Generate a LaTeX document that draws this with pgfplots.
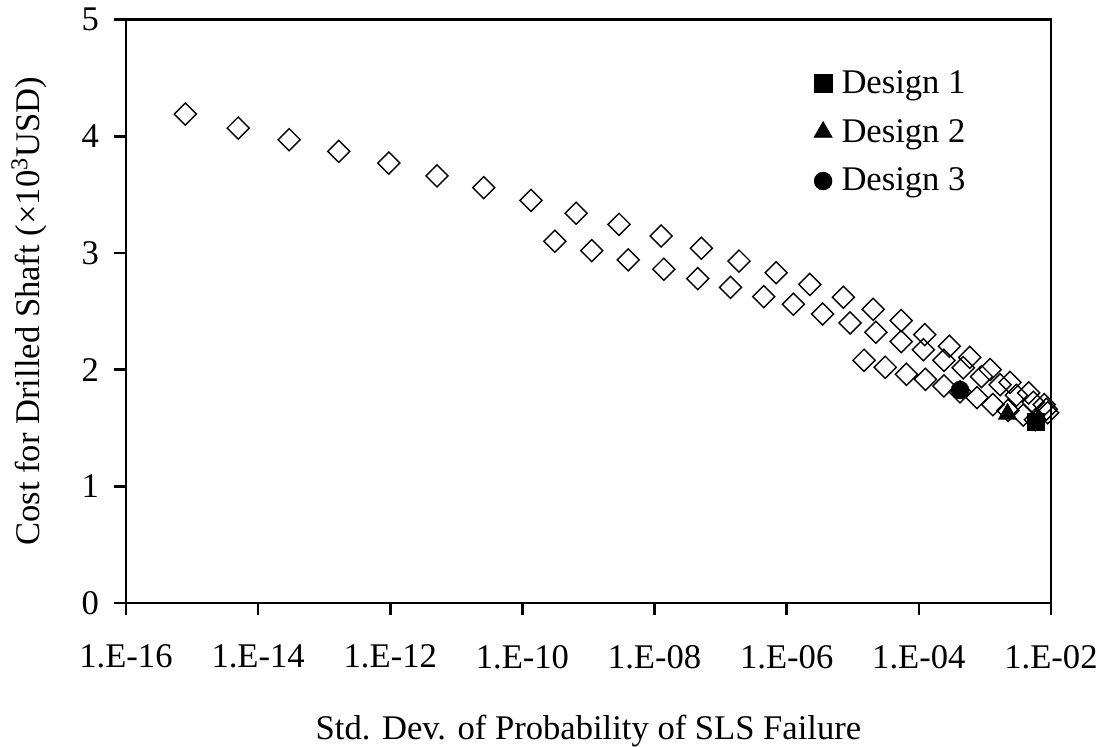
\documentclass[border=0pt]{standalone}
\usepackage{fontspec}
\setmainfont{Liberation Serif}
\usepackage{pgfplots}
\pgfplotsset{compat=1.18}
\newcommand{\ff}{\fontsize{17.3}{20}\selectfont}
\begin{document}
\begin{tikzpicture}
\useasboundingbox (-63pt,-71.5pt) rectangle (489.5pt,301.5pt);
\begin{axis}[
  scale only axis, width=462.5pt, height=291.75pt,
  xmode=log, xmin=1e-16, xmax=1e-2, ymin=0, ymax=5,
  xtick={1e-16,1e-14,1e-12,1e-10,1e-8,1e-6,1e-4,1e-2},
  xticklabels={1.E-16,1.E-14,1.E-12,1.E-10,1.E-08,1.E-06,1.E-04,1.E-02},
  xminorticks=false, yminorticks=false,
  ytick={0,1,2,3,4,5}, yticklabels={0,1,2,3,4,5},
  tick align=outside, major tick length=6pt,
  xtick pos=left, ytick pos=left,
  axis line style={line width=1.3pt},
  tick style={line width=1.3pt, black},
  tick label style={font=\ff},
  xticklabel style={yshift=-11.5pt},
  yticklabel style={xshift=-4pt},
  label style={font=\ff},
  xlabel={Std. Dev. of Probability of SLS Failure},
  ylabel={Cost for Drilled Shaft (×10\textsuperscript{3}USD)},
  xlabel style={at={(axis description cs:0.5,-0.2194)}, anchor=center},
  ylabel style={at={(axis description cs:-0.1045,0.5)}, anchor=center, rotate=0},
  legend style={draw=none, fill=none, font=\ff, at={(axis description cs:0.737,0.9274)}, anchor=north west, row sep=7.5pt},
  legend cell align=left,
  legend image code/.code={\draw[#1] plot coordinates {(0cm,0cm)}; \path (7pt,0pt);},
]
\addplot[forget plot, only marks, mark=square, mark size=3.9pt, mark options={rotate=45, line width=0.7pt, fill=none, draw=black}] coordinates {
(7.9e-16,4.19) (5.0e-15,4.07) (2.95e-14,3.97) (1.66e-13,3.87) (9.5e-13,3.77)
(5.1e-12,3.66) (2.6e-11,3.56) (1.35e-10,3.45) (6.5e-10,3.34) (2.9e-9,3.245)
(1.26e-8,3.145) (5.1e-8,3.04) (1.9e-7,2.93) (6.9e-7,2.83) (2.24e-6,2.73)
(7.2e-6,2.62) (2.04e-5,2.517) (5.4e-5,2.42) (1.23e-4,2.30) (2.9e-4,2.20)
(5.9e-4,2.105) (1.2e-3,2.00) (2.4e-3,1.89) (4.6e-3,1.80) (7.9e-3,1.70)
(3.1e-10,3.10) (1.12e-9,3.02) (4.0e-9,2.94) (1.38e-8,2.86) (4.5e-8,2.78)
(1.41e-7,2.705) (4.5e-7,2.625) (1.26e-6,2.56) (3.5e-6,2.476) (9.1e-6,2.40)
(2.24e-5,2.32) (5.4e-5,2.24) (1.17e-4,2.17) (2.4e-4,2.08) (4.7e-4,2.016)
(8.9e-4,1.94) (1.7e-3,1.87) (3.0e-3,1.78) (5.4e-3,1.72) (8.5e-3,1.66)
(1.48e-5,2.08) (3.1e-5,2.02) (6.5e-5,1.96) (1.26e-4,1.917) (2.4e-4,1.86)
(4.2e-4,1.81) (7.6e-4,1.76) (1.32e-3,1.70) (2.24e-3,1.65) (3.8e-3,1.61)
(5.8e-3,1.57) (8.9e-3,1.63)
};
\addplot[only marks, mark=square*, mark size=4.4pt, black] coordinates {(5.9e-3,1.553)};
\addlegendentry{Design 1}
\addplot[only marks, mark=triangle*, mark size=5.2pt, black] coordinates {(2.2e-3,1.62)};
\addlegendentry{Design 2}
\addplot[only marks, mark=*, mark size=4.4pt, black] coordinates {(4.2e-4,1.825)};
\addlegendentry{Design 3}
\end{axis}
\end{tikzpicture}
\end{document}
